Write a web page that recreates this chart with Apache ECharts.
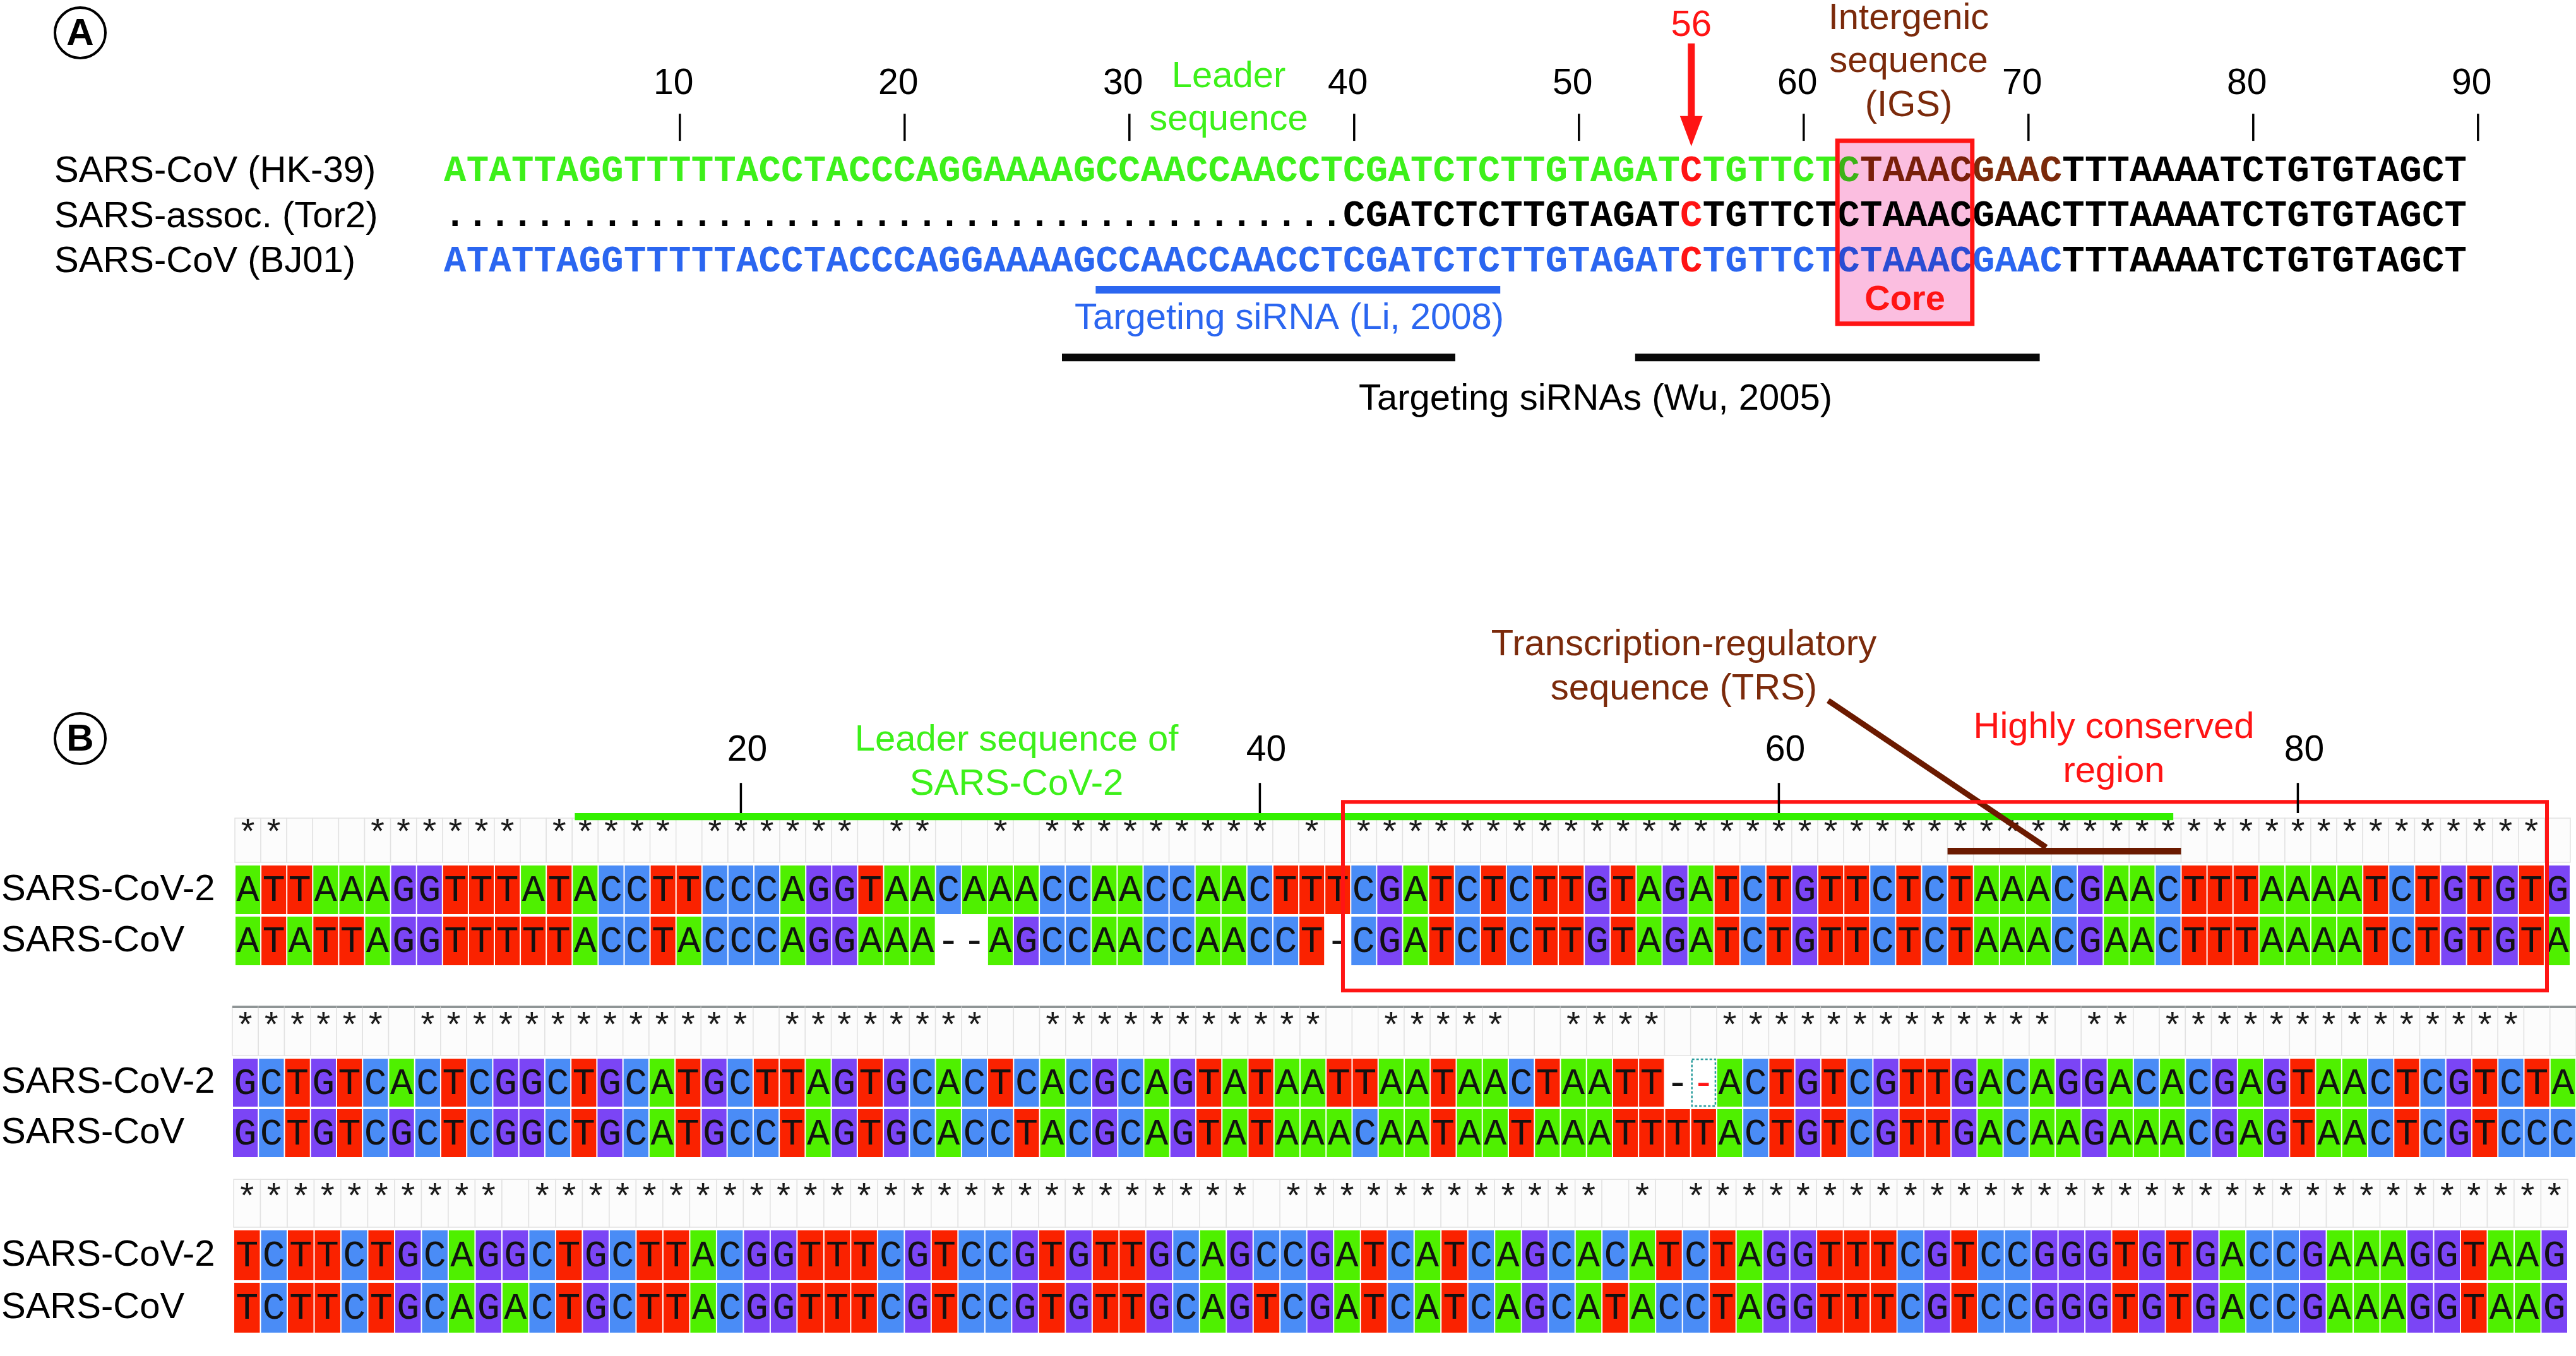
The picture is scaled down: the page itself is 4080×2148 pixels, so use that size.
<!DOCTYPE html>
<html><head><meta charset="utf-8">
<script src="https://cdn.jsdelivr.net/npm/echarts@6/dist/echarts.min.js"></script>
<style>html,body{margin:0;padding:0;background:#fff}#chart{width:4080px;height:2148px}</style>
</head><body><div id="chart"></div>
<script>
// ================= DATA =================
// Panel A
const rowLabelsA = ['SARS-CoV (HK-39)', 'SARS-assoc. (Tor2)', 'SARS-CoV (BJ01)'];
const seqHK39 = 'ATATTAGGTTTTTACCTACCCAGGAAAAGCCAACCAACCTCGATCTCTTGTAGATCTGTTCTCTAAACGAACTTTAAAATCTGTGTAGCT';
const seqTor2 = '........................................CGATCTCTTGTAGATCTGTTCTCTAAACGAACTTTAAAATCTGTGTAGCT';
const seqBJ01 = 'ATATTAGGTTTTTACCTACCCAGGAAAAGCCAACCAACCTCGATCTCTTGTAGATCTGTTCTCTAAACGAACTTTAAAATCTGTGTAGCT';
const positionTicksA = [10, 20, 30, 40, 50, 60, 70, 80, 90];
const mutationPos = 56;
const coreRange = [63, 68];
const leaderRangeHK39 = [1, 63];
const igsRangeHK39 = [64, 72];
const blueRangeBJ01 = [1, 72];
const liSiRNA = [30, 47];
const wuSiRNAs = [[28.5, 45], [54, 71]];

// Panel B
const rowLabelsB = ['SARS-CoV-2', 'SARS-CoV'];
const block1Cov2 = 'ATTAAAGGTTTATACCTTCCCAGGTAACAAACCAACCAACTTTCGATCTCTTGTAGATCTGTTCTCTAAACGAACTTTAAAATCTGTGTG';
const block1Cov  = 'ATATTAGGTTTTTACCTACCCAGGAAA--AGCCAACCAACCT-CGATCTCTTGTAGATCTGTTCTCTAAACGAACTTTAAAATCTGTGTA';
const block2Cov2 = 'GCTGTCACTCGGCTGCATGCTTAGTGCACTCACGCAGTATAATTAATAACTAATT--ACTGTCGTTGACAGGACACGAGTAACTCGTCTA';
const block2Cov  = 'GCTGTCGCTCGGCTGCATGCCTAGTGCACCTACGCAGTATAAACAATAATAAATTTTACTGTCGTTGACAAGAAACGAGTAACTCGTCCC';
const block3Cov2 = 'TCTTCTGCAGGCTGCTTACGGTTTCGTCCGTGTTGCAGCCGATCATCAGCACATCTAGGTTTCGTCCGGGTGTGACCGAAAGGTAAG';
const block3Cov  = 'TCTTCTGCAGACTGCTTACGGTTTCGTCCGTGTTGCAGTCGATCATCAGCATACCTAGGTTTCGTCCGGGTGTGACCGAAAGGTAAG';
const positionTicksB = [20, 40, 60, 80];
const leaderBarB = [13.6, 75.2];       // column coordinates
const conservedBox = [43.2, 89.6];     // column coordinates
const trsBar = [67, 75];               // columns
const trsPointer = [[61.9, -3.2], [70.3, -0.33]];
const gapCursor = { block: 1, row: 0, col: 57 };

// ================= STYLE =================
const FONT_SANS = '"Liberation Sans", Arial, Helvetica, sans-serif';
const FONT_MONO = '"Liberation Mono", "Courier New", monospace';
const GREEN = '#3DF01A', BLUE = '#2B66F0', BROWN = '#7B2A0B', DARKBROWN = '#6B1A00', RED = '#FF1414', BLACK = '#000000';
const PINK = '#FBBEE0';
const CELL_COLORS = { A: '#4FF000', T: '#FA2200', G: '#7B45F5', C: '#4A8CF6' };

function hexToRgb(h){ const n = parseInt(h.slice(1),16); return [(n>>16)&255,(n>>8)&255,n&255]; }
function multiply(c1, c2){ const a = hexToRgb(c1), b = hexToRgb(c2); return 'rgb(' + a.map((v,i)=>Math.round(v*b[i]/255)).join(',') + ')'; }

const seqsA = [seqHK39, seqTor2, seqBJ01];
function inRange(p, r){ return p >= r[0] && p <= r[1]; }
function colorA(r, p){
  let c = BLACK;
  if (r === 0) c = inRange(p, leaderRangeHK39) ? GREEN : (inRange(p, igsRangeHK39) ? BROWN : BLACK);
  if (r === 2) c = inRange(p, blueRangeBJ01) ? BLUE : BLACK;
  if (p === mutationPos) c = RED;
  if (inRange(p, coreRange)) c = multiply(c, PINK);
  return c;
}

const lettersAData = [];
seqsA.forEach((s, r) => { for (let p = 1; p <= s.length; p++) lettersAData.push([p, r]); });

const blocks = [
  { seqs: [block1Cov2, block1Cov], grid: { left: 372, top: 1288, width: 3699, height: 243 }, headerTop: -0.9, topLine: false },
  { seqs: [block2Cov2, block2Cov], grid: { left: 368, top: 1595, width: 3717, height: 240 }, headerTop: -1.0, topLine: true },
  { seqs: [block3Cov2, block3Cov], grid: { left: 370, top: 1864, width: 3697, height: 249 }, headerTop: -0.95, topLine: false }
];

function textEl(x, y, text, font, fill, align){
  return { type: 'text', x: x, y: y, style: { text: text, font: font, fill: fill, textAlign: align || 'center', textVerticalAlign: 'middle', align: align || 'center', verticalAlign: 'middle' } };
}
function rectEl(p0, p1, style){
  return { type: 'rect', shape: { x: Math.min(p0[0],p1[0]), y: Math.min(p0[1],p1[1]), width: Math.abs(p1[0]-p0[0]), height: Math.abs(p1[1]-p0[1]) }, style: style };
}

// ================= GRIDS & AXES =================
const grids = [{ left: 703, top: 56.5, width: 3204, height: 572 }].concat(blocks.map(b => b.grid));
const xAxes = [
  { gridIndex: 0, type: 'value', min: 0.5, max: 90.5, show: false },
  { gridIndex: 0, type: 'value', min: -0.5, max: 89.5, show: false }
].concat(blocks.map((b, i) => ({ gridIndex: i + 1, type: 'value', min: 0.5, max: b.seqs[0].length + 0.5, show: false })));
const yAxes = [{ gridIndex: 0, type: 'value', min: -3, max: 5, inverse: true, show: false }]
  .concat(blocks.map((b, i) => ({ gridIndex: i + 1, type: 'value', min: -1, max: 2, inverse: true, show: false })));

// ================= SERIES =================
const series = [];

// Panel A: core box fill (behind letters)
series.push({ type: 'custom', xAxisIndex: 0, yAxisIndex: 0, z: 1, data: [coreRange],
  renderItem(params, api){
    const a = api.coord([api.value(0) - 0.5, -0.67]), b = api.coord([api.value(1) + 0.5, 3.38]);
    return rectEl(a, b, { fill: PINK });
  }});
// Panel A letters
series.push({ type: 'custom', xAxisIndex: 0, yAxisIndex: 0, z: 2, data: lettersAData,
  renderItem(params, api){
    const p = api.value(0), r = api.value(1);
    const pt = api.coord([p, r]);
    return textEl(pt[0], pt[1] + 1, seqsA[r][p - 1], 'bold 59px ' + FONT_MONO, colorA(r, p));
  }});
// Panel A: core border + label
series.push({ type: 'custom', xAxisIndex: 0, yAxisIndex: 0, z: 3, data: [coreRange],
  renderItem(params, api){
    const s = api.value(0), e = api.value(1);
    const a = api.coord([s - 0.5, -0.67]), b = api.coord([e + 0.5, 3.38]);
    const c = api.coord([(s + e) / 2, 2.86]);
    return { type: 'group', children: [
      rectEl(a, b, { fill: 'none', stroke: RED, lineWidth: 7 }),
      textEl(c[0], c[1], 'Core', 'bold 56px ' + FONT_SANS, RED)
    ]};
  }});
// Panel A row labels
series.push({ type: 'custom', xAxisIndex: 0, yAxisIndex: 0, z: 2, data: rowLabelsA.map((l, i) => [1, i]),
  renderItem(params, api){
    const pt = api.coord([1, api.value(1)]);
    return textEl(86, pt[1] + 1, rowLabelsA[params.dataIndex], '58px ' + FONT_SANS, BLACK, 'left');
  }});
// Panel A position ticks (drawn one position to the right, as in the original)
series.push({ type: 'custom', xAxisIndex: 1, yAxisIndex: 0, z: 2, data: positionTicksA.map(v => [v]),
  renderItem(params, api){
    const v = api.value(0);
    const a = api.coord([v, -1.27]), b = api.coord([v, -0.67]), t = api.coord([v, -1.93]);
    return { type: 'group', children: [
      { type: 'line', shape: { x1: a[0], y1: a[1], x2: b[0], y2: b[1] }, style: { stroke: BLACK, lineWidth: 3.5 } },
      textEl(t[0] - 10, t[1], String(v), '57px ' + FONT_SANS, BLACK)
    ]};
  }});
// Panel A mutation arrow
series.push({ type: 'custom', xAxisIndex: 0, yAxisIndex: 0, z: 3, data: [[mutationPos]],
  renderItem(params, api){
    const p = api.value(0);
    const top = api.coord([p, -2.83]), hs = api.coord([p, -1.22]), tip = api.coord([p, -0.55]), lab = api.coord([p, -3.22]);
    return { type: 'group', children: [
      { type: 'rect', shape: { x: top[0] - 5.5, y: top[1], width: 11, height: hs[1] - top[1] + 2 }, style: { fill: RED } },
      { type: 'polygon', shape: { points: [[hs[0] - 18, hs[1]], [hs[0] + 18, hs[1]], [tip[0], tip[1]]] }, style: { fill: RED } },
      textEl(lab[0], lab[1], String(p), '58px ' + FONT_SANS, RED)
    ]};
  }});
// Panel A siRNA bars
series.push({ type: 'custom', xAxisIndex: 0, yAxisIndex: 0, z: 2,
  data: [[liSiRNA[0], liSiRNA[1], 2.63, 0]].concat(wuSiRNAs.map(w => [w[0], w[1], 4.13, 1])),
  renderItem(params, api){
    const a = api.coord([api.value(0) - 0.5, api.value(2)]), b = api.coord([api.value(1) + 0.5, api.value(2)]);
    const col = api.value(3) === 0 ? BLUE : '#080808';
    return { type: 'rect', shape: { x: a[0], y: a[1] - 6, width: b[0] - a[0], height: 12 }, style: { fill: col } };
  }});

// Panel B blocks
blocks.forEach((blk, bi) => {
  const n = blk.seqs[0].length;
  const data = []; for (let c = 1; c <= n; c++) data.push([c]);
  series.push({ type: 'custom', xAxisIndex: 2 + bi, yAxisIndex: 1 + bi, z: 1, data: data,
    renderItem(params, api){
      const c = api.value(0);
      const children = [];
      const h0 = api.coord([c - 0.5, blk.headerTop]), h1 = api.coord([c + 0.5, 0]);
      children.push(rectEl([h0[0], h0[1]], [h1[0], h1[1] - 3], { fill: '#fcfcfc', stroke: '#e2e2e2', lineWidth: 1.5 }));
      if (blk.topLine) children.push({ type: 'line', shape: { x1: h0[0], y1: h0[1], x2: h1[0], y2: h0[1] }, style: { stroke: '#8f9596', lineWidth: 4 } });
      const a = blk.seqs[0][c - 1], b = blk.seqs[1][c - 1];
      if (a === b && a !== '-') {
        const s = api.coord([c, -0.58]);
        children.push(textEl(s[0], s[1], '*', '56px ' + FONT_MONO, '#1a1a1a'));
      }
      for (let r = 0; r < 2; r++) {
        const ch = blk.seqs[r][c - 1];
        const p0 = api.coord([c - 0.5, r]), p1 = api.coord([c + 0.5, r + 1]);
        if (CELL_COLORS[ch]) children.push({ type: 'rect', shape: { x: p0[0] + 1, y: p0[1] + 2, width: p1[0] - p0[0] - 2, height: p1[1] - p0[1] - 4 }, style: { fill: CELL_COLORS[ch] } });
        const isCursor = gapCursor.block === bi && gapCursor.row === r && gapCursor.col === c;
        if (isCursor) children.push({ type: 'rect', shape: { x: p0[0] + 2, y: p0[1] + 3, width: p1[0] - p0[0] - 4, height: p1[1] - p0[1] - 6 }, style: { fill: 'none', stroke: '#2a9d9d', lineWidth: 2.5, lineDash: [4, 3] } });
        const m = api.coord([c, r + 0.5]);
        children.push(textEl(m[0], m[1] + 2, ch, '60px ' + FONT_MONO, isCursor ? RED : '#111111'));
      }
      return { type: 'group', children: children };
    }});
  series.push({ type: 'custom', xAxisIndex: 2 + bi, yAxisIndex: 1 + bi, z: 1, data: rowLabelsB.map((l, i) => [1, i]),
    renderItem(params, api){
      const pt = api.coord([1, api.value(1) + 0.5]);
      return textEl(2, pt[1], rowLabelsB[params.dataIndex], '58px ' + FONT_SANS, BLACK, 'left');
    }});
});

// Panel B annotations on block 1 axes
series.push({ type: 'custom', xAxisIndex: 2, yAxisIndex: 1, z: 3, data: [leaderBarB],
  renderItem(params, api){
    return rectEl(api.coord([api.value(0), -1.0]), api.coord([api.value(1), -0.86]), { fill: '#33F000' });
  }});
series.push({ type: 'custom', xAxisIndex: 2, yAxisIndex: 1, z: 4, data: [[trsBar[0], trsBar[1], trsPointer[0][0], trsPointer[0][1], trsPointer[1][0], trsPointer[1][1]]],
  renderItem(params, api){
    const a = api.coord([api.value(0) - 0.5, -0.32]), b = api.coord([api.value(1) + 0.5, -0.19]);
    const l0 = api.coord([api.value(2), api.value(3)]), l1 = api.coord([api.value(4), api.value(5)]);
    return { type: 'group', children: [
      rectEl(a, b, { fill: DARKBROWN }),
      { type: 'line', shape: { x1: l0[0], y1: l0[1], x2: l1[0], y2: l1[1] }, style: { stroke: DARKBROWN, lineWidth: 9 } }
    ]};
  }});
series.push({ type: 'custom', xAxisIndex: 2, yAxisIndex: 1, z: 5, data: [conservedBox],
  renderItem(params, api){
    return rectEl(api.coord([api.value(0), -1.22]), api.coord([api.value(1), 2.47]), { fill: 'none', stroke: RED, lineWidth: 6 });
  }});
series.push({ type: 'custom', xAxisIndex: 2, yAxisIndex: 1, z: 6, data: positionTicksB.map(v => [v]),
  renderItem(params, api){
    const v = api.value(0);
    const a = api.coord([v, -1.59]), b = api.coord([v, -1.0]), t = api.coord([v, -2.22]);
    return { type: 'group', children: [
      { type: 'line', shape: { x1: a[0], y1: a[1], x2: b[0], y2: b[1] }, style: { stroke: BLACK, lineWidth: 3.5 } },
      textEl(t[0] + 10, t[1], String(v), '57px ' + FONT_SANS, BLACK)
    ]};
  }});

// ================= FREE TEXT =================
function gText(x, y, text, size, color, weight){
  return { type: 'text', x: x, y: y, z: 100, style: { text: text, font: (weight || 'normal') + ' ' + size + 'px ' + FONT_SANS, fill: color, textAlign: 'center', textVerticalAlign: 'middle' } };
}
const graphic = [
  { type: 'circle', shape: { cx: 127, cy: 52, r: 40 }, style: { fill: 'none', stroke: BLACK, lineWidth: 4 }, z: 100 },
  gText(127, 54, 'A', 60, BLACK, 'bold'),
  { type: 'circle', shape: { cx: 127, cy: 1170, r: 40 }, style: { fill: 'none', stroke: BLACK, lineWidth: 4 }, z: 100 },
  gText(127, 1172, 'B', 60, BLACK, 'bold'),
  gText(1946, 122, 'Leader', 58, GREEN),
  gText(1946, 190, 'sequence', 58, GREEN),
  gText(3023, 30, 'Intergenic', 58, BROWN),
  gText(3023, 98, 'sequence', 58, BROWN),
  gText(3023, 168, '(IGS)', 58, BROWN),
  gText(2042, 505, 'Targeting siRNA (Li, 2008)', 58, BLUE),
  gText(2527, 633, 'Targeting siRNAs (Wu, 2005)', 58, BLACK),
  gText(1610, 1173, 'Leader sequence of', 58, GREEN),
  gText(1610, 1243, 'SARS-CoV-2', 58, GREEN),
  gText(2667, 1022, 'Transcription-regulatory', 58, BROWN),
  gText(2667, 1092, 'sequence (TRS)', 58, BROWN),
  gText(3348, 1153, 'Highly conserved', 58, RED),
  gText(3348, 1223, 'region', 58, RED)
];

const chart = echarts.init(document.getElementById('chart'), null, { renderer: 'canvas', width: 4080, height: 2148 });
chart.setOption({
  backgroundColor: '#ffffff',
  animation: false,
  grid: grids, xAxis: xAxes, yAxis: yAxes,
  series: series,
  graphic: graphic
});
</script>
</body></html>
